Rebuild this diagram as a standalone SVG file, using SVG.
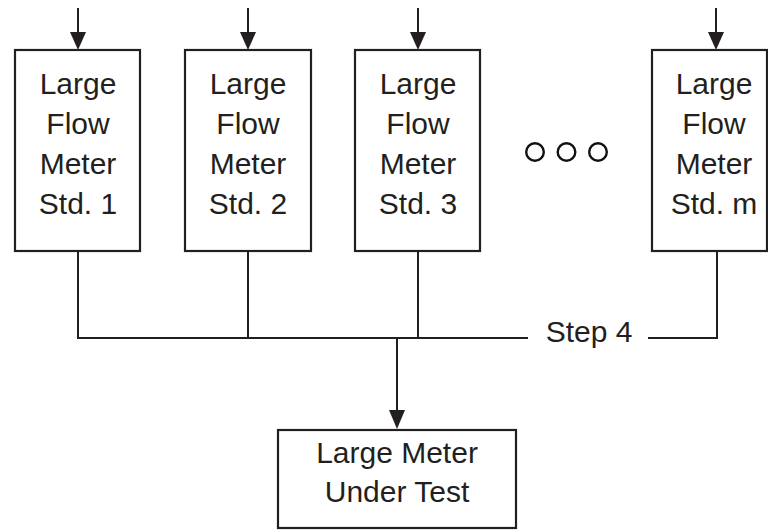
<svg xmlns="http://www.w3.org/2000/svg" width="768" height="532" viewBox="0 0 768 532">
  <style>
    .box { fill: #ffffff; stroke: #231f20; stroke-width: 2.2; }
    .wire { fill: none; stroke: #231f20; stroke-width: 2; }
    .lbl { font-family: "Liberation Sans", Arial, sans-serif; font-size: 30px; fill: #231f20; text-anchor: middle; }
    .dot { fill: none; stroke: #111111; stroke-width: 2.4; }
    .head { fill: #231f20; }
  </style>

  <!-- connectors -->
  <g id="connectors">
    <!-- inflow arrows into each standard -->
    <line class="wire" x1="78" y1="8" x2="78" y2="33"/>
    <path class="head" d="M70,32 L86,32 L78,50 Z"/>
    <line class="wire" x1="248" y1="8" x2="248" y2="33"/>
    <path class="head" d="M240,32 L256,32 L248,50 Z"/>
    <line class="wire" x1="418" y1="8" x2="418" y2="33"/>
    <path class="head" d="M410,32 L426,32 L418,50 Z"/>
    <line class="wire" x1="716" y1="8" x2="716" y2="33"/>
    <path class="head" d="M708,32 L724,32 L716,50 Z"/>

    <!-- outlet manifold -->
    <path class="wire" d="M78,251 V338 H528"/>
    <line class="wire" x1="248" y1="251" x2="248" y2="338"/>
    <line class="wire" x1="418" y1="251" x2="418" y2="338"/>
    <path class="wire" d="M648,338 H717 V251"/>

    <!-- feed to meter under test -->
    <line class="wire" x1="397" y1="338" x2="397" y2="412"/>
    <path class="head" d="M389,410 L405,410 L397,429 Z"/>

    <text class="lbl" x="589" y="342">Step 4</text>
  </g>

  <g id="std1">
    <rect class="box" x="15" y="50" width="125" height="201"/>
    <text class="lbl" x="78" y="94">Large</text>
    <text class="lbl" x="78" y="134">Flow</text>
    <text class="lbl" x="78" y="174">Meter</text>
    <text class="lbl" x="78" y="214">Std. 1</text>
  </g>

  <g id="std2">
    <rect class="box" x="185" y="50" width="126" height="201"/>
    <text class="lbl" x="248" y="94">Large</text>
    <text class="lbl" x="248" y="134">Flow</text>
    <text class="lbl" x="248" y="174">Meter</text>
    <text class="lbl" x="248" y="214">Std. 2</text>
  </g>

  <g id="std3">
    <rect class="box" x="355" y="50" width="125" height="201"/>
    <text class="lbl" x="418" y="94">Large</text>
    <text class="lbl" x="418" y="134">Flow</text>
    <text class="lbl" x="418" y="174">Meter</text>
    <text class="lbl" x="418" y="214">Std. 3</text>
  </g>

  <g id="ellipsis">
    <circle class="dot" cx="535" cy="152" r="8.8"/>
    <circle class="dot" cx="566.5" cy="152" r="8.8"/>
    <circle class="dot" cx="598" cy="152" r="8.8"/>
  </g>

  <g id="stdm">
    <rect class="box" x="652" y="50" width="115" height="201"/>
    <text class="lbl" x="714" y="94">Large</text>
    <text class="lbl" x="714" y="134">Flow</text>
    <text class="lbl" x="714" y="174">Meter</text>
    <text class="lbl" x="714" y="214">Std. m</text>
  </g>

  <g id="under-test">
    <rect class="box" x="278" y="430" width="238" height="98"/>
    <text class="lbl" x="397" y="463">Large Meter</text>
    <text class="lbl" x="397" y="502">Under Test</text>
  </g>
</svg>
